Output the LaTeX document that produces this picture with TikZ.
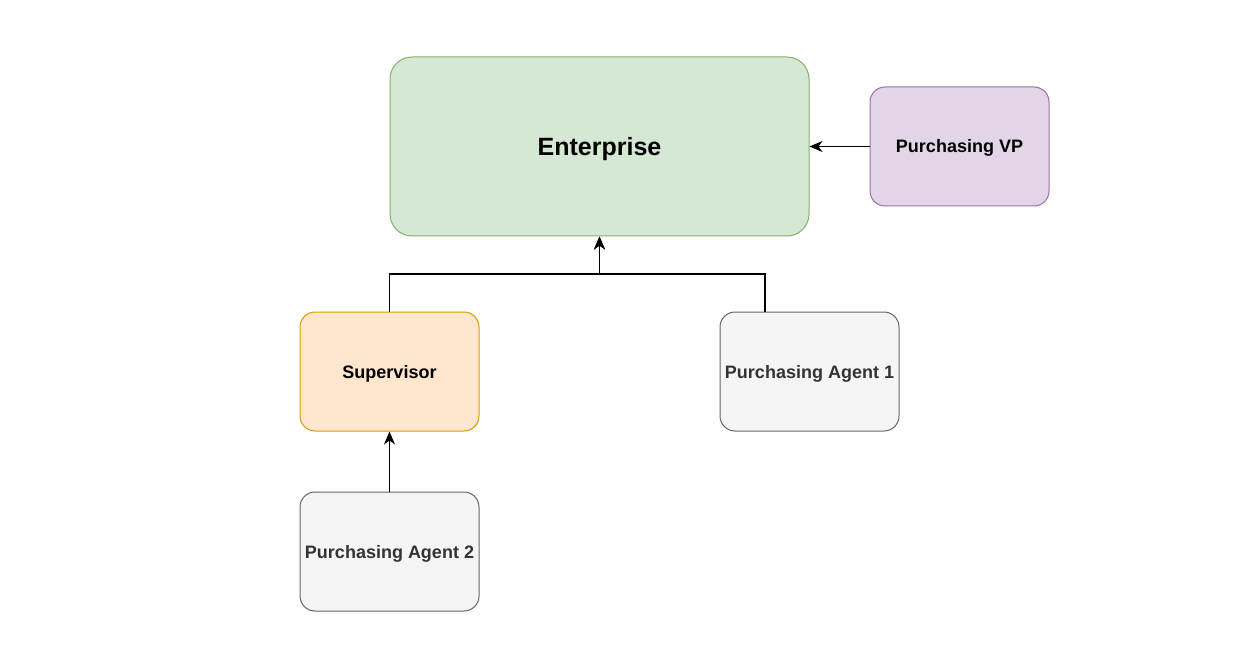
\documentclass[tikz,border=0pt]{standalone}
\usepackage{fontspec}
\setmainfont{Liberation Sans}
\usetikzlibrary{arrows.meta}

\definecolor{entfill}{HTML}{D5E8D4}
\definecolor{entline}{HTML}{82B366}
\definecolor{vpfill}{HTML}{E1D5E7}
\definecolor{vpline}{HTML}{9673A6}
\definecolor{supfill}{HTML}{FFE6CC}
\definecolor{supline}{HTML}{D79B00}
\definecolor{agfill}{HTML}{F5F5F5}
\definecolor{agline}{HTML}{666666}
\definecolor{agtext}{HTML}{333333}

\tikzset{
    role/.style={draw, rounded corners=15pt, minimum width=179pt, minimum height=119pt, font=\bfseries\fontsize{18}{20}\selectfont, text height=13pt, text depth=0pt, line width=1pt},
    agent/.style={role, fill=agfill, draw=agline, text=agtext},
    link/.style={-{Stealth[length=13pt,width=11pt,inset=4pt]}, line width=1.5pt}
}

\begin{document}
\begin{tikzpicture}[x=1pt,y=-1pt]
    \useasboundingbox (0,0) rectangle (1237,663);

    \node[role, fill=entfill, draw=entline, minimum width=419pt, minimum height=179pt, rounded corners=22pt, font=\bfseries\fontsize{25}{28}\selectfont, text height=18pt] (ent) at (599.5,146.5) {Enterprise};
    \node[role, fill=vpfill, draw=vpline] (vp) at (959.5,146.5) {Purchasing VP};
    \node[role, fill=supfill, draw=supline] (sup) at (389.5,371.5) {Supervisor};
    \node[agent] (ag1) at (809.5,371.5) {Purchasing Agent 1};
    \node[agent] (ag2) at (389.5,551.5) {Purchasing Agent 2};

    \coordinate (j) at (599.5,274);
    \draw[link] (vp) -- (ent);
    \draw[link] (sup.north) |- (j) -- (ent.south);
    \draw[link] (ag1.north -| 765,0) |- (j) -- (ent.south);
    \draw[link] (ag2) -- (sup);
\end{tikzpicture}
\end{document}
